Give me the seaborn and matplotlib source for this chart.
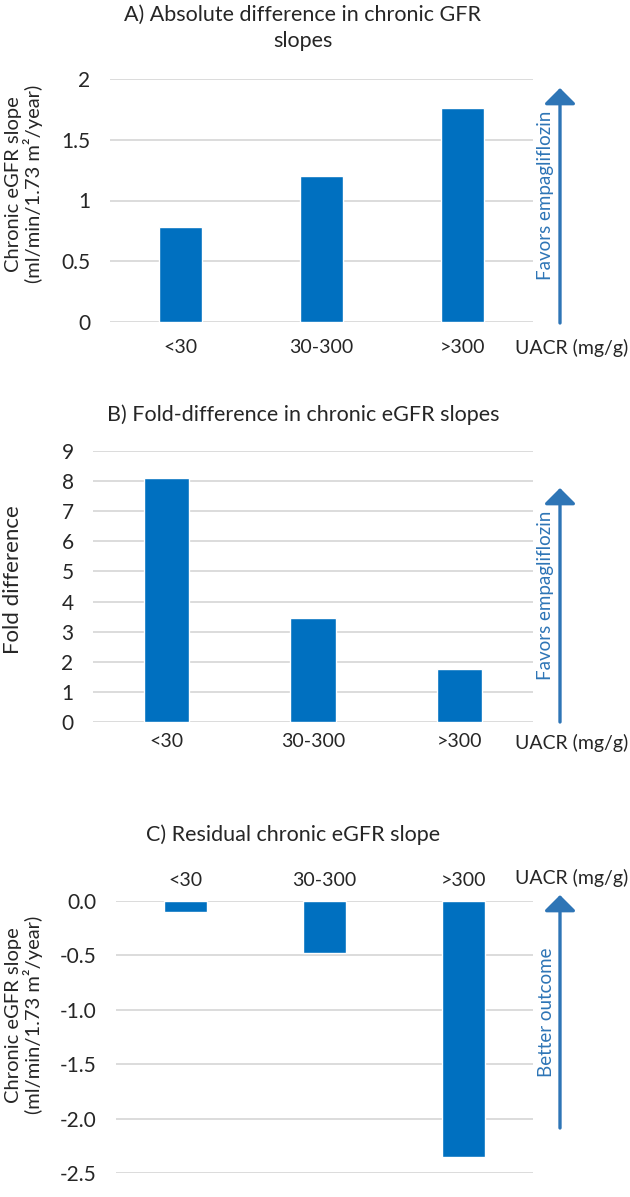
import pandas as pd
import matplotlib.pyplot as plt
import seaborn as sns

# Données
uacr = ["<30", "30-300", ">300"]
abs_diff = [0.78, 1.20, 1.76]
fold_diff = [8.1, 3.45, 1.75]
residual = [-0.10, -0.48, -2.35]

ticks_a = [0, 0.5, 1, 1.5, 2]
labels_a = ["0", "0.5", "1", "1.5", "2"]
ticks_b = list(range(0, 10))
labels_b = [str(t) for t in ticks_b]
ticks_c = [0.0, -0.5, -1.0, -1.5, -2.0, -2.5]
labels_c = ["0.0", "-0.5", "-1.0", "-1.5", "-2.0", "-2.5"]

BLEU = "#0070C0"
FLECHE = "#2E75B6"
GRILLE = "#D9D9D9"
TEXTE = "#262626"

sns.set_theme(style="white")
plt.rcParams["font.family"] = ["Lato", "DejaVu Sans"]
plt.rcParams["text.color"] = TEXTE

W, H = 630, 1197
fig = plt.figure(figsize=(W / 100, H / 100), dpi=100)


def axes_px(x0, x1, ytop, ybot):
    # position d'un axe en pixels (origine en haut à gauche)
    return fig.add_axes([x0 / W, 1 - ybot / H, (x1 - x0) / W, (ybot - ytop) / H])


def fy(y):
    return 1 - y / H


def panneau(ax, valeurs, ticks, labels, ylim, xpad, haut=False):
    df = pd.DataFrame({"uacr": uacr, "val": valeurs})
    sns.barplot(data=df, x="uacr", y="val", color=BLEU, saturation=1,
                width=0.31, ax=ax)
    ax.set_xlim(-0.5, 2.5)
    ax.set_ylim(*ylim)
    ax.set_yticks(ticks)
    ax.set_yticklabels(labels, fontsize=15, color=TEXTE)
    ax.yaxis.grid(True, color=GRILLE, lw=1.3)
    ax.set_axisbelow(True)
    for s in ax.spines.values():
        s.set_visible(False)
    ax.tick_params(length=0)
    ax.tick_params(axis="y", pad=14)
    ax.tick_params(axis="x", labelsize=14, labelcolor=TEXTE, pad=xpad)
    if haut:
        ax.xaxis.tick_top()
    ax.set_xlabel("")
    ax.set_ylabel("")


def fleche(x, ybas, yhaut, texte, ycentre):
    fig.add_artist(plt.Annotation(
        "", xy=(x / W, fy(yhaut)), xytext=(x / W, fy(ybas)),
        xycoords="figure fraction", textcoords="figure fraction",
        arrowprops=dict(arrowstyle="-|>,head_length=0.6,head_width=0.6",
                        color=FLECHE, lw=2.4, mutation_scale=16,
                        shrinkA=0, shrinkB=0)))
    fig.text((x - 14) / W, fy(ycentre), texte, rotation=90, color=FLECHE,
             ha="center", va="center", fontsize=13.5)


ylabel = "Chronic eGFR slope\n(ml/min/1.73 m\u00b2/year)"

# A) différence absolue
ax_a = axes_px(110, 533, 79, 322)
panneau(ax_a, abs_diff, ticks_a, labels_a, (0, 2), xpad=12)
fig.text(303 / W, fy(28), "A) Absolute difference in chronic GFR\nslopes",
         ha="center", va="center", fontsize=15.5, linespacing=1.35)
fig.text(24 / W, fy(184), ylabel, rotation=90, ha="center", va="center",
         fontsize=14.5, multialignment="center", linespacing=1.1)
fleche(560, 323, 88, "Favors empagliflozin", 195)
fig.text(628 / W, fy(348), "UACR (mg/g)", ha="right", va="center", fontsize=14)

# B) différence relative
ax_b = axes_px(93, 533, 451, 722)
panneau(ax_b, fold_diff, ticks_b, labels_b, (0, 9), xpad=8)
fig.text(303 / W, fy(415), "B) Fold-difference in chronic eGFR slopes",
         ha="center", va="center", fontsize=15.5)
fig.text(13 / W, fy(580), "Fold difference", rotation=90, ha="center",
         va="center", fontsize=16)
fleche(560, 722, 488, "Favors empagliflozin", 595)
fig.text(628 / W, fy(743), "UACR (mg/g)", ha="right", va="center", fontsize=14)

# C) pente résiduelle
ax_c = axes_px(116, 533, 901, 1173)
panneau(ax_c, residual, ticks_c, labels_c, (-2.5, 0), xpad=9, haut=True)
fig.text(293 / W, fy(835), "C) Residual chronic eGFR slope",
         ha="center", va="center", fontsize=15.5)
fig.text(24 / W, fy(1015), ylabel, rotation=90, ha="center", va="center",
         fontsize=14.5, multialignment="center", linespacing=1.1)
fleche(560, 1128, 895, "Better outcome", 1012)
fig.text(628 / W, fy(878), "UACR (mg/g)", ha="right", va="center", fontsize=14)

fig.savefig("out.png", dpi=100, facecolor="white")
